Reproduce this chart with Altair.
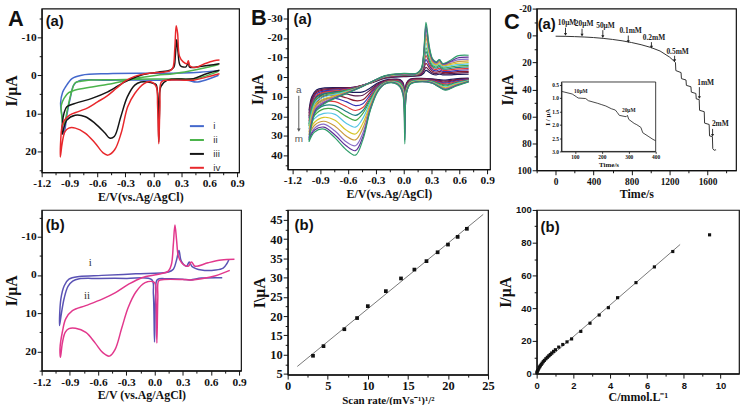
import json
import altair as alt
import pandas as pd

SERIF = "Liberation Serif"
SANS = "Liberation Sans"
INK = "#111111"

# ---------------- A(a): CVs of electrodes i-iv ----------------
AA_CURVES = ["i", "ii", "iii", "iv"]
AA_COLORS = ["#4468cc", "#4cb44c", "#151515", "#e8282c"]
AA_E = {
    "i": [0.70, 0.57, 0.46, 0.36, 0.00, -0.49, -0.80, -0.856, -0.89, -0.926, -0.96, -0.98, -0.997,
          -0.975, -0.944, -0.874, -0.77, -0.49, 0.00, 0.30, 0.50, 0.70],
    "ii": [0.70, 0.55, 0.45, 0.30, 0.00, -0.40, -0.70, -0.78, -0.84, -0.88, -0.92, -0.955, -0.97,
           -0.985, -0.99, -0.96, -0.91, -0.838, -0.66, -0.487, -0.31, -0.135, 0.04, 0.216, 0.39, 0.57, 0.70],
    "iii": [0.71, 0.57, 0.43, 0.15, 0.08, 0.065, 0.058, 0.05, 0.03, 0.005, -0.065, -0.135, -0.20, -0.28,
            -0.35, -0.42, -0.47, -0.52, -0.63, -0.73, -0.84, -0.93, -0.98,
            -0.975, -0.96, -0.93, -0.84, -0.66, -0.49, -0.31, -0.135, 0.05, 0.18, 0.22, 0.235, 0.25,
            0.265, 0.29, 0.35, 0.375, 0.39, 0.50, 0.60, 0.71],
    "iv": [0.71, 0.57, 0.43, 0.15, 0.085, 0.07, 0.058, 0.045, 0.03, -0.03, -0.10, -0.20, -0.276, -0.346,
           -0.416, -0.487, -0.54, -0.627, -0.733, -0.838, -0.909, -0.95, -0.979, -1.0,
           -0.995, -0.985, -0.96, -0.90, -0.80, -0.70, -0.60, -0.50, -0.40, -0.30, -0.20, -0.10, 0.00,
           0.10, 0.18, 0.21, 0.23, 0.245, 0.26, 0.28, 0.32, 0.36, 0.375, 0.39, 0.45, 0.55, 0.65, 0.71],
}
AA_I = {
    "i": [0.0, 1.2, 1.8, 1.3, 1.3, 1.3, 1.5, 2.6, 5.7, 10.0, 15.5, 11.0, 7.4,
          4.5, 3.1, 0.9, 0.0, -0.4, -0.5, -0.6, -0.8, -1.2],
    "ii": [-1.0, 0.3, 1.0, 1.0, 1.0, 1.2, 1.3, 1.6, 2.0, 4.5, 8.5, 12.6, 13.0,
           10.5, 8.0, 6.1, 4.6, 3.9, 3.1, 2.4, 1.5, 0.6, 0.0, -0.4, -1.1, -2.0, -2.8],
    "iii": [-1.3, -0.4, 0.9, 1.3, 3.0, 10.0, 17.5, 8.0, 2.5, 2.2, 1.8, 1.8, 2.6, 5.7,
            10.9, 16.1, 16.5, 15.2, 12.6, 10.9, 10.5, 11.8, 15.5,
            12.0, 10.0, 8.3, 7.4, 6.1, 4.4, 1.8, 0.0, -0.8, -1.3, -2.1, -5.0, -9.3,
            -6.0, -2.5, -2.2, -3.4, -2.1, -2.3, -2.6, -3.0],
    "iv": [-0.4, 0.5, 1.3, 1.3, 1.8, 8.0, 18.0, 8.0, 3.0, 1.7, 2.2, 4.8, 8.3, 15.2,
           19.6, 21.0, 20.4, 17.8, 15.2, 13.9, 13.9, 14.8, 17.8, 21.5,
           17.0, 14.0, 12.0, 10.5, 9.5, 8.5, 7.0, 5.5, 3.5, 1.5, 0.3, -0.3, -0.6,
           -0.8, -1.2, -2.0, -7.0, -13.0, -11.0, -5.0, -3.5, -3.0, -3.8, -2.5, -2.0, -3.0, -3.8, -4.0],
}

# ---------------- A(b): CVs i and ii ----------------
AB_CURVES = ["i", "ii"]
AB_COLORS = ["#5a52b4", "#e2388c"]
AB_E = {
    "i": [0.72, 0.50, 0.38, 0.30, 0.15, 0.03, 0.012, 0.0, -0.012, -0.03, -0.30, -0.60, -0.80, -0.87,
          -0.92, -0.96, -0.99, -1.01,
          -0.996, -0.96, -0.91, -0.80, -0.56, -0.20, 0.15, 0.20, 0.235, 0.26, 0.285, 0.34, 0.37, 0.40,
          0.50, 0.65, 0.73, 0.77, 0.79],
    "ii": [0.80, 0.65, 0.50, 0.40, 0.30, 0.10, 0.045, 0.035, 0.025, 0.015, 0.0, -0.10, -0.20, -0.28,
           -0.35, -0.42, -0.48, -0.55, -0.63, -0.73, -0.84, -0.91, -0.95, -0.98, -1.0,
           -1.005, -0.98, -0.943, -0.873, -0.732, -0.556, -0.415, -0.275, -0.134, 0.042, 0.147, 0.18,
           0.20, 0.217, 0.235, 0.253, 0.288, 0.358, 0.393, 0.43, 0.57, 0.71, 0.85],
}
AB_I = {
    "i": [0.7, 0.8, 1.3, 1.1, 1.0, 1.2, 5.0, 17.5, 5.0, 1.2, 0.9, 0.9, 1.0, 1.6,
          3.0, 6.0, 10.0, 13.2,
          6.3, 2.8, 1.1, 0.4, 0.1, -0.3, -0.8, -1.5, -4.0, -6.4, -3.6, -2.3, -3.4, -2.2,
          -1.3, -1.3, -1.8, -3.0, -4.0],
    "ii": [-1.2, 0.2, 1.0, 1.3, 1.2, 1.2, 1.5, 6.0, 17.8, 6.0, 2.0, 2.0, 4.5, 8.5,
           14.0, 19.5, 21.2, 20.3, 17.8, 15.0, 13.9, 14.0, 15.0, 17.8, 21.5,
           19.2, 14.9, 11.4, 9.3, 8.0, 6.3, 4.6, 2.4, 0.7, -0.2, -1.0, -2.8,
           -8.0, -13.1, -9.0, -5.0, -3.2, -2.3, -3.4, -2.3, -3.2, -3.9, -4.1],
}
AB_TAGS = ["i", "ii"]
AB_TAG_E = [-0.70, -0.75]
AB_TAG_I = [-3.2, 5.4]

# ---------------- B(a): CVs at scan rates a-m ----------------
BA_CURVES = list("abcdefghijklm")
BA_COLORS = ["#1b1b5c", "#5c1e4e", "#8c1a30", "#3535b5", "#e03a3a", "#1f7f80", "#45a845",
             "#55c5e5", "#d6c52a", "#c89a3c", "#8a6cc6", "#5e2f96", "#2f9e6a"]
# cathodic sweep (0.7 V -> -1.02 V)
BA_EL = [0.70, 0.56, 0.45, 0.38, 0.30, 0.17, 0.07, 0.03, 0.012, -0.005, -0.04, -0.10, -0.20,
         -0.28, -0.36, -0.44, -0.52, -0.62, -0.74, -0.86, -0.96, -1.02]
BA_LOW = {
    "a": [0.5, 0.8, 1.5, 1.2, 0.8, 0.6, 1.0, 3.0, 9, 3.0, 1.2, 1.0, 1.5, 3.0, 5.5, 7.5, 7.8, 7.5, 7.2, 7.5, 11.0, 17.0],
    "b": [0.7, 1.2, 2.0, 1.6, 1.0, 0.8, 1.2, 3.5, 11, 3.5, 1.5, 1.2, 1.8, 3.5, 6.5, 9.2, 9.5, 8.6, 8.0, 8.5, 12.5, 18.5],
    "c": [0.9, 1.6, 2.5, 2.0, 1.3, 1.0, 1.5, 4.0, 13, 4.0, 1.8, 1.4, 2.0, 4.0, 7.8, 11.5, 12.0, 10.5, 9.2, 9.8, 14.0, 20.0],
    "d": [1.0, 2.0, 3.0, 2.4, 1.6, 1.2, 1.8, 4.5, 15, 4.5, 2.0, 1.6, 2.2, 4.5, 9.0, 13.5, 14.5, 12.5, 10.8, 11.2, 15.0, 21.0],
    "e": [1.2, 2.4, 3.5, 2.8, 1.8, 1.4, 2.0, 5.0, 17, 5.0, 2.3, 1.8, 2.4, 5.0, 10.0, 15.5, 17.0, 15.0, 12.5, 12.8, 16.5, 22.5],
    "f": [1.4, 2.8, 4.0, 3.2, 2.0, 1.6, 2.3, 5.5, 19, 5.5, 2.7, 2.0, 2.6, 5.3, 11.0, 17.0, 19.5, 17.5, 14.5, 14.5, 18.0, 24.0],
    "g": [1.6, 3.1, 4.5, 3.6, 2.2, 1.8, 2.6, 6.0, 21, 6.0, 3.0, 2.2, 2.8, 5.6, 11.8, 18.5, 22.0, 20.0, 16.5, 16.2, 19.5, 25.0],
    "h": [1.8, 3.4, 5.0, 4.0, 2.4, 1.9, 2.8, 6.5, 23, 6.5, 3.4, 2.4, 3.0, 6.0, 12.8, 21.0, 25.5, 23.5, 19.0, 18.5, 21.0, 26.5],
    "i": [2.0, 3.7, 5.4, 4.3, 2.6, 2.0, 3.0, 7.0, 25, 7.0, 3.8, 2.6, 3.1, 6.4, 14.0, 23.5, 29.0, 27.0, 22.0, 20.5, 23.0, 28.0],
    "j": [2.1, 4.0, 5.8, 4.5, 2.7, 2.1, 3.2, 7.5, 27, 7.5, 4.2, 2.7, 3.2, 6.8, 15.0, 26.0, 32.0, 30.0, 25.0, 22.5, 24.5, 29.5],
    "k": [2.2, 4.2, 6.1, 4.7, 2.8, 2.2, 3.4, 8.0, 29, 8.0, 4.5, 2.8, 3.3, 7.0, 15.8, 28.5, 35.0, 33.0, 27.5, 24.0, 26.0, 31.0],
    "l": [2.3, 4.4, 6.4, 4.9, 2.9, 2.3, 3.5, 8.0, 32, 9.0, 4.8, 2.9, 3.4, 7.2, 16.5, 30.5, 37.5, 35.0, 29.5, 25.5, 27.0, 32.0],
    "m": [2.4, 4.6, 6.6, 5.0, 3.0, 2.4, 3.6, 8.0, 34, 10.0, 5.0, 3.0, 3.5, 7.5, 17.0, 32.0, 39.8, 37.0, 31.0, 26.5, 28.0, 33.0],
}
# anodic sweep (-1.02 V -> 0.7 V)
BA_EU = [-1.02, -0.99, -0.94, -0.85, -0.70, -0.52, -0.35, -0.20, 0.00, 0.14, 0.19, 0.215, 0.24,
         0.275, 0.31, 0.35, 0.385, 0.42, 0.50, 0.58, 0.70]
BA_UP = {
    "a": [17.0, 10.0, 6.5, 5.5, 5.3, 5.0, 3.0, 0.5, -0.3, -0.6, -1.0, -2.0, -3.5, -2.5, -1.5, -1.2, -1.5, -1.2, -1.2, -1.4, -1.5],
    "b": [18.5, 11.0, 7.2, 6.0, 5.6, 5.0, 2.8, 0.3, -0.5, -0.8, -1.4, -3.0, -5.0, -3.5, -2.2, -1.8, -2.2, -1.8, -1.8, -2.1, -2.3],
    "c": [20.0, 12.0, 7.8, 6.5, 6.0, 5.1, 2.7, 0.2, -0.7, -1.0, -1.8, -4.0, -7.0, -4.8, -3.0, -2.5, -3.0, -2.4, -2.4, -2.8, -3.0],
    "d": [21.0, 13.0, 8.5, 7.0, 6.4, 5.2, 2.6, 0.0, -0.9, -1.1, -2.2, -5.0, -9.0, -6.0, -3.8, -3.2, -3.8, -3.0, -3.0, -3.5, -3.8],
    "e": [22.5, 14.0, 9.3, 7.6, 6.8, 5.3, 2.6, -0.1, -1.0, -1.2, -2.6, -6.0, -11.0, -7.2, -4.6, -3.9, -4.6, -3.6, -3.7, -4.2, -4.5],
    "f": [24.0, 15.0, 10.2, 8.3, 7.3, 5.5, 2.6, -0.2, -1.2, -1.3, -2.9, -7.0, -13.0, -8.4, -5.4, -4.6, -5.4, -4.2, -4.4, -5.0, -5.3],
    "g": [25.0, 16.5, 11.2, 9.1, 7.8, 5.7, 2.6, -0.3, -1.3, -1.4, -3.1, -8.0, -15.0, -9.6, -6.1, -5.2, -6.1, -4.8, -5.1, -5.7, -6.0],
    "h": [26.5, 18.0, 12.2, 10.0, 8.3, 5.9, 2.6, -0.4, -1.4, -1.5, -3.3, -9.0, -17.5, -11.0, -6.8, -5.8, -6.8, -5.4, -5.8, -6.4, -6.8],
    "i": [28.0, 19.5, 13.3, 10.9, 8.8, 6.0, 2.6, -0.5, -1.5, -1.6, -3.5, -10.0, -20.0, -12.3, -7.5, -6.3, -7.4, -5.9, -6.4, -7.1, -7.5],
    "j": [29.5, 21.0, 14.3, 11.7, 9.2, 6.1, 2.6, -0.6, -1.6, -1.7, -3.8, -10.5, -22.0, -13.3, -8.1, -6.8, -8.0, -6.3, -7.0, -7.9, -8.3],
    "k": [31.0, 22.0, 15.3, 12.4, 9.5, 6.2, 2.5, -0.7, -1.7, -1.8, -4.0, -11.0, -24.5, -14.3, -8.7, -7.2, -8.5, -6.6, -7.6, -8.8, -9.2],
    "l": [32.0, 23.0, 16.2, 13.0, 9.8, 6.3, 2.5, -0.7, -1.8, -1.9, -4.2, -11.5, -26.5, -15.0, -9.1, -7.5, -8.8, -6.8, -8.0, -9.8, -10.2],
    "m": [33.0, 24.0, 17.0, 13.4, 10.0, 6.4, 2.5, -0.8, -1.9, -2.0, -4.5, -12.0, -28.0, -16.0, -9.5, -7.8, -9.0, -7.0, -8.5, -10.9, -11.2],
}
BA_NOTE_E = -1.13
BA_NOTE_TEXT = ["a", "m"]
BA_NOTE_I = [6.6, 31.5]
BA_ARROW_I = [9.5, 27.0]

# ---------------- B(b): peak current vs. sqrt(scan rate) ----------------
BB_RATE = [3.16, 4.47, 7.07, 8.66, 10.0, 12.25, 14.14, 15.81, 17.32, 18.71, 20.0, 21.21, 22.36]
BB_PEAK = [9.7, 12.2, 16.6, 19.5, 22.6, 26.5, 29.8, 32.1, 34.3, 36.6, 38.6, 40.6, 42.7]

# ---------------- C(a): amperometric response ----------------
CA_T = [0, 100, 200, 300, 400, 500, 600, 700, 800, 900, 1000, 1100, 1200, 1262, 1266, 1321, 1325,
        1373, 1377, 1425, 1429, 1477, 1481, 1512, 1516, 1565, 1569, 1617, 1621, 1651, 1655,
        1670, 1680, 1690]
CA_I = [0.5, 0.6, 0.8, 1.1, 1.5, 2.1, 2.9, 3.9, 5.2, 6.8, 8.8, 11.5, 16.0, 20.0, 26.0, 27.5, 32.0,
        33.0, 37.0, 38.0, 42.0, 43.0, 47.0, 47.5, 55.5, 56.5, 65.0, 66.0, 74.5, 75.0, 84.0,
        85.2, 84.8, 85.0]
CA_ADD = ["10μM", "20μM", "50μM", "0.1mM", "0.2mM", "0.5mM", "1mM", "2mM"]
CA_ADD_T = [104, 278, 497, 765, 1009, 1253, 1514, 1653]
CA_ARROW_TOP = [-5.8, -5.0, -4.0, 0.0, 4.9, 15.0, 38.3, 69.3]
CA_ARROW_BOT = [-0.8, -0.3, 0.8, 4.6, 8.6, 18.6, 46.0, 74.0]
CA_LABEL_T = [120, 300, 525, 790, 1035, 1285, 1580, 1735]
CA_LABEL_I = [-9.0, -8.5, -7.0, -3.5, 1.5, 12.5, 35.0, 66.0]
# inset: low-concentration region
IN_T = [50, 90, 105, 112, 140, 150, 185, 200, 215, 235, 250, 258, 265, 290, 295, 300, 320, 330,
        345, 352, 375, 390, 400]
IN_I = [0.75, 0.85, 0.95, 1.0, 1.02, 1.1, 1.2, 1.25, 1.3, 1.4, 1.45, 1.55, 1.65, 1.7, 1.65, 1.8,
        1.95, 2.0, 2.1, 2.3, 2.45, 2.55, 2.6]
IN_TAG = ["10μM", "20μM"]
IN_TAG_T = [122, 300]
IN_TAG_I = [0.72, 1.45]

# ---------------- C(b): calibration plot ----------------
CB_C = [0.01, 0.03, 0.06, 0.09, 0.12, 0.16, 0.2, 0.25, 0.3, 0.36, 0.42, 0.5, 0.58, 0.66, 0.74,
        0.82, 0.92, 1.02, 1.2, 1.42, 1.65, 1.9, 2.4, 2.9, 3.4, 3.9, 4.4, 5.4, 6.4, 7.4, 9.4]
CB_I = [0.5, 1.2, 2.0, 2.7, 3.4, 4.1, 4.8, 5.6, 6.4, 7.3, 8.1, 9.1, 10.0, 10.9, 11.7, 12.6, 13.6,
        14.6, 16.2, 17.8, 19.4, 21.2, 25.8, 30.8, 35.8, 40.3, 46.4, 55.6, 65.2, 74.6, 84.8]


def axis(major, minor, spec, label_size, title, title_size, label_font=SERIF, label_pad=1,
         title_pad=2, **kw):
    # major ticks carry labels (hyphen-minus for negatives); minor ticks are shorter and unlabeled
    m = json.dumps(major)
    expr = ("indexof(%s, datum.value) < 0 ? '' : (datum.value < 0 ? '-' + format(-datum.value, '%s') "
            ": format(datum.value, '%s'))" % (m, spec, spec))
    return alt.Axis(
        values=sorted(major + minor), labelExpr=expr,
        tickSize={"condition": {"test": "indexof(%s, datum.value) < 0" % m, "value": 2.5}, "value": 4.5},
        tickColor=INK, tickWidth=1, domainColor=INK, domainWidth=1.2, grid=False,
        labelFont=label_font, labelFontWeight="bold", labelFontSize=label_size, labelColor=INK,
        labelPadding=label_pad, labelOverlap=False, labelFlush=False,
        title=title, titleFont=SERIF, titleFontWeight="bold", titleFontSize=title_size,
        titleColor=INK, titlePadding=title_pad, **kw)


def tag(text, x, y, size, font=SANS, weight="bold", color=INK):
    return alt.Chart(pd.DataFrame({"t": [text]})).mark_text(
        font=font, fontSize=size, fontWeight=weight, align="left", baseline="middle", color=color
    ).encode(x=alt.value(x), y=alt.value(y), text="t:N")


def loop_frame(names, e_map, i_map):
    rows = []
    for n in names:
        for k, (e, i) in enumerate(zip(e_map[n], i_map[n])):
            rows.append({"curve": n, "k": k, "E": e, "I": i})
    return pd.DataFrame(rows)


CV_MAJOR = [-1.2, -0.9, -0.6, -0.3, 0.0, 0.3, 0.6, 0.9]
CV_MINOR = [-1.05, -0.75, -0.45, -0.15, 0.15, 0.45, 0.75]
CV_TITLE = "E/V(vs.Ag/AgCl)"

# ---- A(a)
xA = alt.Scale(domain=[-1.2, 0.92], nice=False, zero=False)
yA = alt.Scale(domain=[-17.5, 25.5], reverse=True, nice=False, zero=False)
aa = alt.Chart(loop_frame(AA_CURVES, AA_E, AA_I)).mark_line(
    strokeWidth=1.5, interpolate="catmull-rom"
).encode(
    x=alt.X("E:Q", scale=xA, axis=axis(CV_MAJOR, CV_MINOR, ".1f", 11.5, CV_TITLE, 12)),
    y=alt.Y("I:Q", scale=yA, axis=axis([-10, 0, 10, 20], [-15, -5, 5, 15, 25], "d", 11.5, "I/μA", 16)),
    color=alt.Color("curve:N", scale=alt.Scale(domain=AA_CURVES, range=AA_COLORS),
                    legend=alt.Legend(orient="none", legendX=148, legendY=110, title=None,
                                      symbolType="stroke", symbolStrokeWidth=2, symbolSize=200,
                                      labelFont=SANS, labelFontSize=10, labelColor="#333",
                                      rowPadding=0, labelOffset=8)),
    order="k:Q",
)
panel_aa = alt.layer(aa, tag("(a)", 4, 13, 15), tag("A", -34, 11, 22)).properties(width=199, height=165)

# ---- A(b)
ab_x = alt.X("E:Q", scale=xA, axis=axis(CV_MAJOR, CV_MINOR, ".1f", 11.5, "E/V (vs.Ag/AgCl)", 12))
ab_y = alt.Y("I:Q", scale=alt.Scale(domain=[-17, 25], reverse=True, nice=False, zero=False),
             axis=axis([-10, 0, 10, 20], [-15, -5, 5, 15, 25], "d", 11.5, "I/μA", 16))
ab = alt.Chart(loop_frame(AB_CURVES, AB_E, AB_I)).mark_line(
    strokeWidth=1.5, interpolate="catmull-rom"
).encode(
    x=ab_x, y=ab_y,
    color=alt.Color("curve:N", scale=alt.Scale(domain=AB_CURVES, range=AB_COLORS), legend=None),
    order="k:Q",
)
ab_tags = alt.Chart(pd.DataFrame({"t": AB_TAGS, "E": AB_TAG_E, "I": AB_TAG_I})).mark_text(
    font=SERIF, fontSize=11, color="#333", align="left", baseline="middle"
).encode(x=ab_x, y=ab_y, text="t:N")
panel_ab = alt.layer(ab, ab_tags, tag("(b)", 4, 15, 15)).properties(width=201, height=162)

# ---- B(a)
rows = []
for n in BA_CURVES:
    seq = list(zip(BA_EL, BA_LOW[n])) + list(zip(BA_EU, BA_UP[n]))
    for k, (e, i) in enumerate(seq):
        rows.append({"curve": n, "k": k, "E": e, "I": i})
ba_df = pd.DataFrame(rows)
xB = alt.Scale(domain=[-1.25, 0.93], nice=False, zero=False)
yB = alt.Scale(domain=[-35, 47], reverse=True, nice=False, zero=False)
ba_xaxis = axis(CV_MAJOR, CV_MINOR, ".1f", 11.5, CV_TITLE, 12)
ba_yaxis = axis([-30, -20, -10, 0, 10, 20, 30, 40], [-25, -15, -5, 5, 15, 25, 35, 45], "d", 11.5,
                "I/μA", 16)
ba_x = alt.X("E:Q", scale=xB, axis=ba_xaxis)
ba = alt.Chart(ba_df).mark_line(strokeWidth=1.2, interpolate="catmull-rom").encode(
    x=ba_x, y=alt.Y("I:Q", scale=yB, axis=ba_yaxis),
    color=alt.Color("curve:N", scale=alt.Scale(domain=BA_CURVES, range=BA_COLORS), legend=None),
    order="k:Q",
)
note_df = pd.DataFrame({"t": BA_NOTE_TEXT, "E": [BA_NOTE_E] * 2, "I": BA_NOTE_I})
ba_note = alt.Chart(note_df).mark_text(font=SANS, fontSize=10, color="#555", baseline="middle").encode(
    x=ba_x, y=alt.Y("I:Q", scale=yB, axis=ba_yaxis), text="t:N")
arrow_df = pd.DataFrame({"E": [BA_NOTE_E], "I": [BA_ARROW_I[0]], "I1": [BA_ARROW_I[1]]})
ba_arrow = alt.Chart(arrow_df).mark_rule(color="#555", strokeWidth=1).encode(
    x=ba_x, y=alt.Y("I:Q", scale=yB, axis=ba_yaxis), y2="I1:Q")
ba_head = alt.Chart(arrow_df).mark_point(shape="triangle-down", filled=True, size=14, color="#555",
                                         opacity=1).encode(
    x=ba_x, y=alt.Y("I1:Q", scale=yB, axis=ba_yaxis))
panel_ba = alt.layer(ba, ba_arrow, ba_head, ba_note, tag("(a)", 6, 11, 15),
                     tag("B", -37, 10, 22)).properties(width=204, height=162)

# ---- B(b)
bb_df = pd.DataFrame({"v": BB_RATE, "ip": BB_PEAK})
xBB = alt.Scale(domain=[0, 25], nice=False, zero=False)
yBB = alt.Scale(domain=[4.8, 47.6], nice=False, zero=False)
bb_axes = dict(
    x=alt.X("v:Q", scale=xBB, axis=axis([0, 5, 10, 15, 20, 25], [2.5, 7.5, 12.5, 17.5, 22.5], "d",
                                        12.5, "Scan rate/(mVs⁻¹)¹/²", 11)),
    y=alt.Y("ip:Q", scale=yBB, axis=axis([5, 10, 15, 20, 25, 30, 35, 40, 45],
                                         [7.5, 12.5, 17.5, 22.5, 27.5, 32.5, 37.5, 42.5, 47.5], "d",
                                         12.5, "I\\μA", 16)),
)
bb_fit = alt.Chart(bb_df).transform_regression("v", "ip", extent=[1.2, 24.4]).mark_line(
    color="#777", strokeWidth=1).encode(**bb_axes)
bb_pts = alt.Chart(bb_df).mark_square(size=14, color=INK, opacity=1).encode(**bb_axes)
panel_bb = alt.layer(bb_fit, bb_pts, tag("(b)", 7, 15, 15)).properties(width=202, height=166)

# ---- C(a)
W_C1, H_C1 = 201, 163
IN_X0, IN_X1, IN_Y0, IN_Y1 = 25, 120, 74, 144
xCA = alt.Scale(domain=[-200, 1900], nice=False, zero=False)
yCA = alt.Scale(domain=[-20, 100], reverse=True, nice=False, zero=False)
ca_xaxis = axis([0, 400, 800, 1200, 1600], [-200, 200, 600, 1000, 1400, 1800], "d", 9.5, "Time/s", 12,
                label_pad=2, orient="bottom")
ca_yaxis = axis([-20, 0, 20, 40, 60, 80, 100], [-10, 10, 30, 50, 70, 90], "d", 9.5, "I/μA", 16,
                orient="left")
ca_x = alt.X("t:Q", scale=xCA, axis=ca_xaxis)
ca_y = alt.Y("I:Q", scale=yCA, axis=ca_yaxis)
ca_line = alt.Chart(pd.DataFrame({"t": CA_T, "I": CA_I})).mark_line(
    color="#333", strokeWidth=1).encode(x=ca_x, y=ca_y)
arr_df = pd.DataFrame({"t": CA_ADD_T, "I": CA_ARROW_TOP, "I2": CA_ARROW_BOT})
ca_rules = alt.Chart(arr_df).mark_rule(color="#222", strokeWidth=0.9).encode(
    x=ca_x, y=ca_y, y2="I2:Q")
ca_heads = alt.Chart(arr_df).mark_point(shape="triangle-down", filled=True, size=10, color="#222",
                                        opacity=1).encode(
    x=ca_x, y=alt.Y("I2:Q", scale=yCA, axis=ca_yaxis))
ca_labels = alt.Chart(pd.DataFrame({"s": CA_ADD, "t": CA_LABEL_T, "I": CA_LABEL_I})).mark_text(
    font=SERIF, fontSize=7.5, fontWeight="bold", color="#222", baseline="middle"
).encode(x=ca_x, y=ca_y, text="s:N")
ca_main = alt.layer(ca_line, ca_rules, ca_heads, ca_labels)

xIN = alt.Scale(domain=[50, 400], range=[IN_X0, IN_X1], nice=False, zero=False)
yIN = alt.Scale(domain=[0.4, 3.0], range=[IN_Y0, IN_Y1], nice=False, zero=False)
in_axis_common = dict(tickColor=INK, tickWidth=0.8, tickSize=2, domainColor=INK, domainWidth=0.8,
                      grid=False, labelFont=SERIF, labelFontWeight="bold", labelFontSize=5.5,
                      labelColor=INK, labelPadding=1, labelOverlap=False, labelFlush=False,
                      titleFont=SERIF, titleFontWeight="bold", titleFontSize=7, titleColor=INK,
                      titlePadding=1)
in_xaxis = alt.Axis(values=[100, 200, 300, 400], format="d", title="Time/s",
                    orient="bottom", offset=IN_Y1 - H_C1, **in_axis_common)
in_yaxis = alt.Axis(values=[0.5, 1.0, 1.5, 2.0, 2.5, 3.0], format=".1f",
                    title="I / μA", orient="left", offset=-IN_X0, **in_axis_common)
in_x = alt.X("t:Q", scale=xIN, axis=in_xaxis)
in_y = alt.Y("I:Q", scale=yIN, axis=in_yaxis)
in_line = alt.Chart(pd.DataFrame({"t": IN_T, "I": IN_I})).mark_line(color="#333", strokeWidth=0.9).encode(
    x=in_x, y=in_y)
in_box = alt.Chart(pd.DataFrame({"t": [50], "t2": [400], "I": [0.4], "I2": [3.0]})).mark_rect(
    fill=None, fillOpacity=0, stroke=INK, strokeWidth=0.8).encode(x=in_x, x2="t2:Q", y=in_y, y2="I2:Q")
in_tags = alt.Chart(pd.DataFrame({"s": IN_TAG, "t": IN_TAG_T, "I": IN_TAG_I})).mark_text(
    font=SERIF, fontSize=5.5, fontWeight="bold", color="#222", baseline="middle"
).encode(x=in_x, y=in_y, text="s:N")
ca_inset = alt.layer(in_box, in_line, in_tags)

panel_ca = alt.layer(
    alt.layer(ca_main, tag("(a)", 1, 16, 15), tag("C", -33, 14, 22)),
    ca_inset,
).resolve_scale(x="independent", y="independent").properties(width=W_C1, height=H_C1)

# ---- C(b)
cb_df = pd.DataFrame({"c": CB_C, "I": CB_I})
xCB = alt.Scale(domain=[0, 11], nice=False, zero=False)
yCB = alt.Scale(domain=[0, 100], nice=False, zero=False)
cb_axes = dict(
    x=alt.X("c:Q", scale=xCB, axis=axis([0, 2, 4, 6, 8, 10], [1, 3, 5, 7, 9], "d", 9.5,
                                        "C/mmol.L⁻¹", 12, label_font=SANS, label_pad=2)),
    y=alt.Y("I:Q", scale=yCB, axis=axis([0, 20, 40, 60, 80, 100], [10, 30, 50, 70, 90], "d", 9.5,
                                        "I/μA", 16, label_font=SANS)),
)
cb_fit = alt.Chart(cb_df).transform_filter("datum.c < 8").transform_regression(
    "c", "I", extent=[0, 7.8]).mark_line(color="#777", strokeWidth=1).encode(**cb_axes)
cb_pts = alt.Chart(cb_df).mark_square(size=10, color=INK, opacity=1).encode(**cb_axes)
panel_cb = alt.layer(cb_fit, cb_pts, tag("(b)", 4, 17, 15)).properties(width=204, height=165)

# 2 x 3 grid laid out by the plot areas themselves
chart = alt.concat(
    panel_aa, panel_ba, panel_ca, panel_ab, panel_bb, panel_cb,
    columns=3, spacing={"row": 38, "column": 47}, bounds="flush", align="none",
).resolve_scale(color="independent").configure_view(
    stroke=INK, strokeWidth=1.2
).properties(padding={"left": 2, "top": 1, "right": 0, "bottom": 0}, background="white")

chart.save("out.html", embed_options={"renderer": "svg", "actions": False})
